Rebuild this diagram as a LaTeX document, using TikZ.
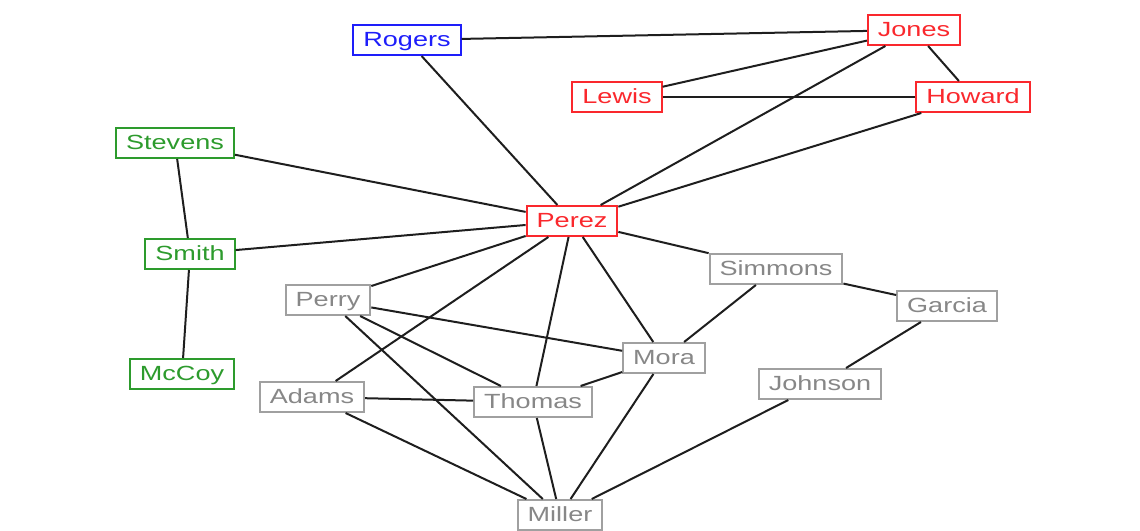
\documentclass[tikz,border=0pt]{standalone}
\usepackage{fontspec}
\setmainfont{Liberation Sans}
\usepackage{graphicx}
\definecolor{cblue}{RGB}{30,30,250}
\definecolor{cred}{RGB}{250,40,45}
\definecolor{cgreen}{RGB}{45,155,45}
\definecolor{cgray}{RGB}{160,160,160}
\definecolor{cgtext}{RGB}{135,135,135}
\definecolor{cedge}{RGB}{30,30,30}
\tikzset{
  nd/.style={draw, line width=2pt, fill=white, rectangle, minimum height=30pt,
    inner xsep=10pt, inner ysep=0pt, text height=15pt, text depth=1.6pt,
    font=\fontsize{20.5}{22}\selectfont},
  bluen/.style={nd, draw=cblue, text=cblue},
  redn/.style={nd, draw=cred, text=cred},
  greenn/.style={nd, draw=cgreen, text=cgreen},
  grayn/.style={nd, draw=cgray, text=cgtext},
  edge/.style={draw=cedge, line width=2pt}
}
\newcommand{\wt}[1]{\scalebox{1.32}[1]{#1}}
\begin{document}
\begin{tikzpicture}[x=1pt,y=-1pt]
\useasboundingbox (0,0) rectangle (1140,530);
\node[bluen] (rogers) at (407,40) {\wt{Rogers}};
\node[redn] (jones) at (914,30) {\wt{Jones}};
\node[redn] (lewis) at (617,97) {\wt{Lewis}};
\node[redn] (howard) at (973,97) {\wt{Howard}};
\node[greenn] (stevens) at (175,143) {\wt{Stevens}};
\node[greenn] (smith) at (190,254) {\wt{Smith}};
\node[greenn] (mccoy) at (182,374) {\wt{McCoy}};
\node[redn] (perez) at (572,221) {\wt{Perez}};
\node[grayn] (simmons) at (776,269) {\wt{Simmons}};
\node[grayn] (perry) at (328,300) {\wt{Perry}};
\node[grayn] (garcia) at (947,306) {\wt{Garcia}};
\node[grayn] (mora) at (664,358) {\wt{Mora}};
\node[grayn] (johnson) at (820,384) {\wt{Johnson}};
\node[grayn] (adams) at (312,397) {\wt{Adams}};
\node[grayn] (thomas) at (533,402) {\wt{Thomas}};
\node[grayn] (miller) at (560,515) {\wt{Miller}};
\foreach \a/\b in {rogers/jones, rogers/perez, jones/lewis, jones/howard, jones/perez,
  lewis/howard, howard/perez, stevens/perez, stevens/smith, smith/perez, smith/mccoy,
  perez/perry, perez/adams, perez/thomas, perez/mora, perez/simmons,
  perry/mora, perry/thomas, perry/miller, adams/thomas, adams/miller,
  thomas/mora, thomas/miller, mora/miller, mora/simmons, simmons/garcia,
  garcia/johnson, johnson/miller}
  \draw[edge] (\a) -- (\b);
\end{tikzpicture}
\end{document}
